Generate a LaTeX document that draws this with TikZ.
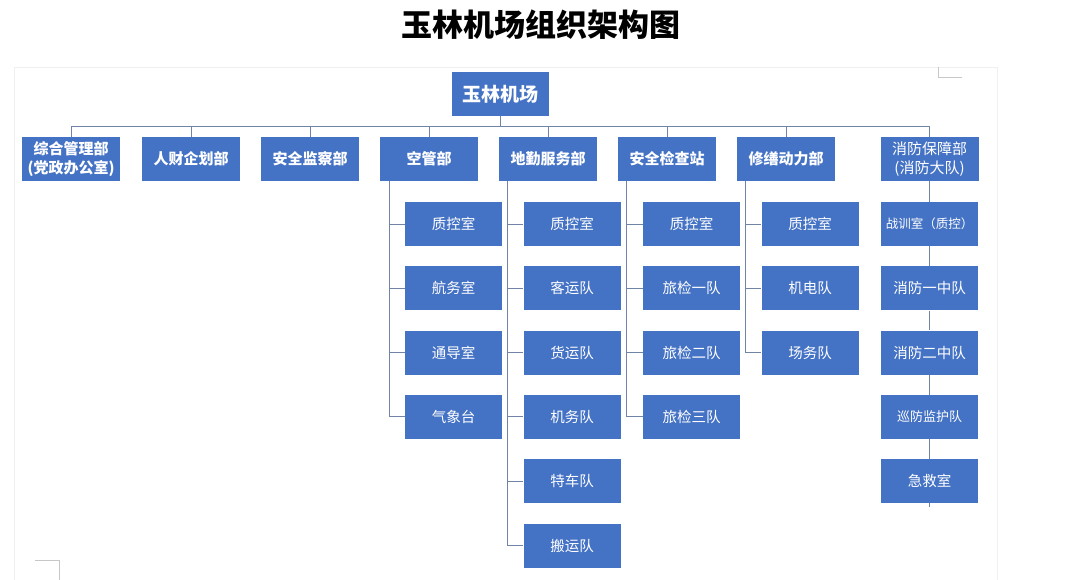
\documentclass[tikz,border=0pt]{standalone}
\usepackage{fontspec}
\newfontfamily\cjk{Noto Sans CJK SC}
\usetikzlibrary{positioning}

\definecolor{orgblue}{HTML}{4472C4}
\definecolor{orgline}{HTML}{6F84A6}
\tikzset{
  unit/.style={fill=orgblue, text=white, minimum width=98pt, minimum height=44pt,
    inner sep=1pt, align=center, font=\cjk\fontsize{15}{18.5}\selectfont\bfseries},
  sub/.style={unit, minimum width=97pt, font=\cjk\fontsize{14.5}{16}\selectfont},
  link/.style={draw=orgline, line width=0.9pt},
}

\begin{document}
\begin{tikzpicture}[x=1pt,y=-1pt]
  \useasboundingbox (0,0) rectangle (1066,580);
  % page frame and corner marks
  \draw[black!6] (14,580) -- (14,67) -- (997,67) -- (997,580);
  \draw[black!22] (938,67) -- (938,77) -- (962,77);
  \draw[black!22] (35,560) -- (59,560) -- (59,580);

  \node[font=\cjk\fontsize{31}{31}\selectfont\bfseries] (title) at (541,25) {玉林机场组织架构图};
  \node[unit, minimum width=97pt, font=\cjk\fontsize{19}{20}\selectfont\bfseries] (root) at (500.5,94) {玉林机场};

  % departments
  \node[unit] (zh) at (71,159) {综合管理部\\(党政办公室)};
  \node[unit] (rc) at (191,159) {人财企划部};
  \node[unit] (aj) at (310,159) {安全监察部};
  \node[unit] (kg) at (429,159) {空管部};
  \node[unit] (dq) at (548,159) {地勤服务部};
  \node[unit] (aq) at (667,159) {安全检查站};
  \node[unit] (xs) at (786,159) {修缮动力部};
  \node[unit, alias=xf-0, font=\cjk\fontsize{15}{18.5}\selectfont] (xf) at (929.5,159) {消防保障部\\(消防大队)};

  \foreach \d in {zh,rc,aj,kg,dq,aq,xs,xf}
    \draw[link] (root.south) -- ++(0,10) -| (\d.north);

  % sections
  \foreach \t [count=\i] in {质控室,航务室,通导室,气象台} {
    \node[sub] (kg-\i) at (453.5,{224+64.3*(\i-1)}) {\t};
    \draw[link] ([xshift=10pt]kg.south west) |- (kg-\i.west);
  }
  \foreach \t [count=\i] in {质控室,客运队,货运队,机务队,特车队,搬运队} {
    \node[sub] (dq-\i) at (572,{224+64.3*(\i-1)}) {\t};
    \draw[link] ([xshift=9pt]dq.south west) |- (dq-\i.west);
  }
  \foreach \t [count=\i] in {质控室,旅检一队,旅检二队,旅检三队} {
    \node[sub] (aq-\i) at (691.5,{224+64.3*(\i-1)}) {\t};
    \draw[link] ([xshift=9pt]aq.south west) |- (aq-\i.west);
  }
  \foreach \t [count=\i] in {质控室,机电队,场务队} {
    \node[sub] (xs-\i) at (810,{224+64.3*(\i-1)}) {\t};
    \draw[link] ([xshift=9pt]xs.south west) |- (xs-\i.west);
  }
  \foreach \s/\t [count=\i, remember=\i as \j (initially 0)] in
    {12.5/战训室（质控）,14.5/消防一中队,14.5/消防二中队,13/巡防监护队,14.5/急救室} {
    \node[sub, font=\cjk\fontsize{\s}{16}\selectfont] (xf-\i) at (929.5,{224+64.3*(\i-1)}) {\t};
    \draw[link] (xf-\j.south) -- (xf-\i.north);
  }
  \draw[link] (xf-5.south) -- ++(0,4);
\end{tikzpicture}
\end{document}
